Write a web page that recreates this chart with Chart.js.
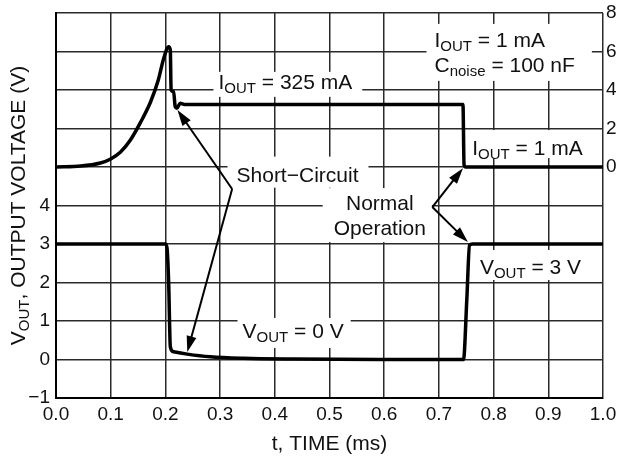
<!DOCTYPE html>
<html>
<head>
<meta charset="utf-8">
<title>Short-Circuit Transient</title>
<script src="https://cdn.jsdelivr.net/npm/chart.js@4.4.1/dist/chart.umd.min.js"></script>
<style>
  html, body { margin: 0; padding: 0; background: #fff; }
  #wrap { width: 622px; height: 459px; }
</style>
</head>
<body>
<div id="wrap"><canvas id="transientChart" width="622" height="459"></canvas></div>
<script>
// time axis (ms)
const xTicks = [0, 0.1, 0.2, 0.3, 0.4, 0.5, 0.6, 0.7, 0.8, 0.9, 1.0];
const xTickLabels = ["0.0", "0.1", "0.2", "0.3", "0.4", "0.5", "0.6", "0.7", "0.8", "0.9", "1.0"];

// left axis: output voltage (V)
const voltTicks = [-1, 0, 1, 2, 3, 4];
const voltTickLabels = ["\u22121", "0", "1", "2", "3", "4"];

// right axis: output current trace
const currentTicks = [0, 2, 4, 6, 8];
const currentTickLabels = ["0", "2", "4", "6", "8"];

// upper trace (right axis)
const currentTimes = [0, 0.045, 0.081, 0.1, 0.118, 0.136, 0.154, 0.173, 0.187, 0.197, 0.206, 0.209,
  0.2104, 0.215, 0.218, 0.221, 0.227, 0.235, 0.744, 0.746, 0.749, 1.0];
const currentValues = [0, 0.05, 0.21, 0.42, 0.78, 1.40, 2.29, 3.39, 4.52, 5.65, 6.25, 6.08,
  4.0, 3.91, 3.13, 3.05, 3.31, 3.25, 3.25, 0.1, 0, 0];

// lower trace (left axis)
const voltTimes = [0, 0.2, 0.203, 0.206, 0.209, 0.215, 0.24, 0.282, 0.343, 0.434, 0.593,
  0.745, 0.751, 0.756, 0.761, 1.0];
const voltValues = [3.0, 3.0, 2.89, 1.98, 0.33, 0.20, 0.14, 0.07, 0.03, 0.01, 0,
  0, 1.55, 2.97, 3.0, 3.0];

const FONT = '"Liberation Sans", Arial, Helvetica, sans-serif';
const TEXT = "#111";
const GRID = "#2a2a2a";

// notes placed in data units (x: ms, y: left-axis volts at first baseline)
// pad = [left, above baseline, right, below last baseline]
const notes = [
  { x: 0.297, y: 7.03, lines: ["I_{OUT} = 325 mA"], pad: [5, 17, 10, 8] },
  { x: 0.692, y: 8.12, lines: ["I_{OUT} = 1 mA", "C_{noise} = 100 nF"], pad: [8, 23, 17, 9] },
  { x: 0.761, y: 5.31, lines: ["I_{OUT} = 1 mA"], pad: [9, 25, 13, 3] },
  { x: 0.330, y: 4.62, lines: ["Short\u2212Circuit"], pad: [9, 25, 10, 6] },
  { x: 0.592, y: 3.88, lines: ["Normal", "Operation"], align: "center", pad: [11, 22, 6, 7] },
  { x: 0.341, y: 0.56, lines: ["V_{OUT} = 0 V"], pad: [5, 20, 7, 10] },
  { x: 0.775, y: 2.22, lines: ["V_{OUT} = 3 V"], pad: [10, 24, 14, 6] },
];

const arrows = [
  { from: [0.322, 4.43], to: [0.222, 6.48] },
  { from: [0.322, 4.43], to: [0.240, 0.195] },
  { from: [0.688, 3.96], to: [0.744, 4.97] },
  { from: [0.688, 3.96], to: [0.753, 3.05] },
];

const LINE_GAP = 25;

function parseRich(str) {
  const parts = [];
  const re = /_\{([^}]*)\}/g;
  let last = 0, m;
  while ((m = re.exec(str))) {
    if (m.index > last) parts.push({ text: str.slice(last, m.index), sub: false });
    parts.push({ text: m[1], sub: true });
    last = re.lastIndex;
  }
  if (last < str.length) parts.push({ text: str.slice(last), sub: false });
  return parts;
}

function setFont(ctx, sub) {
  ctx.font = (sub ? 15 : 21) + "px " + FONT;
}

function richWidth(ctx, str) {
  let w = 0;
  parseRich(str).forEach((p) => {
    setFont(ctx, p.sub);
    w += ctx.measureText(p.text).width;
  });
  return w;
}

function drawRich(ctx, str, x, y) {
  ctx.textBaseline = "alphabetic";
  ctx.textAlign = "left";
  parseRich(str).forEach((p) => {
    setFont(ctx, p.sub);
    ctx.fillText(p.text, x, p.sub ? y + 4 : y);
    x += ctx.measureText(p.text).width;
  });
}

function noteLayout(chart, n) {
  const ctx = chart.ctx;
  const px = chart.scales.x.getPixelForValue(n.x);
  const py = chart.scales.y.getPixelForValue(n.y);
  const widths = n.lines.map((l) => richWidth(ctx, l));
  const maxW = Math.max(...widths);
  const left = n.align === "center" ? px - maxW / 2 : px;
  const lastBase = py + (n.lines.length - 1) * LINE_GAP;
  return {
    px, py, widths, left,
    box: {
      x: left - n.pad[0],
      y: py - n.pad[1],
      w: maxW + n.pad[0] + n.pad[2],
      h: lastBase + n.pad[3] - (py - n.pad[1]),
    },
  };
}

function drawArrow(ctx, x0, y0, x1, y1) {
  const ang = Math.atan2(y1 - y0, x1 - x0);
  const len = 16, half = 5;
  ctx.beginPath();
  ctx.moveTo(x0, y0);
  ctx.lineTo(x1 - Math.cos(ang) * len * 0.8, y1 - Math.sin(ang) * len * 0.8);
  ctx.stroke();
  ctx.beginPath();
  ctx.moveTo(x1, y1);
  ctx.lineTo(x1 - Math.cos(ang) * len - Math.sin(ang) * half, y1 - Math.sin(ang) * len + Math.cos(ang) * half);
  ctx.lineTo(x1 - Math.cos(ang) * len + Math.sin(ang) * half, y1 - Math.sin(ang) * len - Math.cos(ang) * half);
  ctx.closePath();
  ctx.fill();
}

const notesPlugin = {
  id: "plotNotes",
  beforeDatasetsDraw(chart) {
    // blank out the grid behind each note
    const ctx = chart.ctx;
    ctx.save();
    ctx.fillStyle = "#fff";
    notes.forEach((n) => {
      const b = noteLayout(chart, n).box;
      ctx.fillRect(b.x, b.y, b.w, b.h);
    });
    ctx.restore();
  },
  afterDatasetsDraw(chart) {
    const ctx = chart.ctx;
    const xs = chart.scales.x, ys = chart.scales.y;
    ctx.save();
    ctx.strokeStyle = "#000";
    ctx.fillStyle = "#000";
    ctx.lineWidth = 2;
    arrows.forEach((a) => {
      drawArrow(ctx,
        xs.getPixelForValue(a.from[0]), ys.getPixelForValue(a.from[1]),
        xs.getPixelForValue(a.to[0]), ys.getPixelForValue(a.to[1]));
    });
    ctx.fillStyle = TEXT;
    notes.forEach((n) => {
      const L = noteLayout(chart, n);
      n.lines.forEach((line, i) => {
        const x = n.align === "center" ? L.px - L.widths[i] / 2 : L.left;
        drawRich(ctx, line, x, L.py + i * LINE_GAP);
      });
    });
    ctx.restore();
  },
  afterDraw(chart) {
    const ctx = chart.ctx;
    const area = chart.chartArea;
    ctx.save();
    ctx.fillStyle = TEXT;
    // x axis title
    const xt = "t, TIME (ms)";
    const xw = richWidth(ctx, xt);
    drawRich(ctx, xt, (area.left + area.right) / 2 - xw / 2, 450);
    // y axis title, rotated
    const yt = "V_{OUT}, OUTPUT VOLTAGE (V)";
    const yw = richWidth(ctx, yt);
    ctx.translate(25, (area.top + area.bottom) / 2);
    ctx.rotate(-Math.PI / 2);
    drawRich(ctx, yt, -yw / 2, 0);
    ctx.restore();
  },
};

const tickFont = { family: FONT, size: 19 };

// keep the plot box fixed: no extra room for label overhang
const fixVertical = (w) => (scale) => {
  scale.width = w;
  scale.paddingTop = 0;
  scale.paddingBottom = 0;
};

new Chart(document.getElementById("transientChart"), {
  type: "line",
  data: {
    datasets: [
      {
        label: "Output Current",
        data: currentTimes.map((t, i) => ({ x: t, y: currentValues[i] })),
        yAxisID: "y2",
        borderColor: "#000",
        borderWidth: 3.5,
        pointRadius: 0,
        cubicInterpolationMode: "monotone",
        fill: false,
      },
      {
        label: "Output Voltage",
        data: voltTimes.map((t, i) => ({ x: t, y: voltValues[i] })),
        yAxisID: "y",
        borderColor: "#000",
        borderWidth: 3.5,
        pointRadius: 0,
        cubicInterpolationMode: "monotone",
        fill: false,
      },
    ],
  },
  options: {
    responsive: false,
    animation: false,
    devicePixelRatio: 1,
    layout: { padding: { top: 13, left: 0, right: 0, bottom: 0 } },
    plugins: {
      legend: { display: false },
      tooltip: { enabled: false },
    },
    scales: {
      x: {
        type: "linear",
        min: 0,
        max: 1,
        afterFit: (scale) => {
          scale.height = 61;
          scale.paddingLeft = 0;
          scale.paddingRight = 0;
        },
        grid: { display: true, color: GRID, lineWidth: 1.5, drawTicks: false },
        border: { color: "#000", width: 2 },
        ticks: {
          stepSize: 0.1,
          autoSkip: false,
          maxRotation: 0,
          padding: 5,
          color: TEXT,
          font: tickFont,
          callback: (v) => {
            const i = xTicks.findIndex((t) => Math.abs(t - v) < 1e-6);
            return i >= 0 ? xTickLabels[i] : "";
          },
        },
      },
      y: {
        type: "linear",
        position: "left",
        min: -1,
        max: 9,
        afterFit: fixVertical(56),
        grid: { display: true, color: GRID, lineWidth: 1.5, drawTicks: false },
        border: { color: "#000", width: 2 },
        ticks: {
          stepSize: 1,
          autoSkip: false,
          padding: 6,
          color: TEXT,
          font: tickFont,
          callback: (v) => {
            const i = voltTicks.indexOf(v);
            return i >= 0 ? voltTickLabels[i] : "";
          },
        },
      },
      y2: {
        type: "linear",
        position: "right",
        min: -12,
        max: 8,
        afterFit: fixVertical(19),
        grid: { display: false, drawTicks: false },
        border: { display: false },
        ticks: {
          stepSize: 2,
          autoSkip: false,
          padding: 3,
          color: TEXT,
          font: tickFont,
          callback: (v) => {
            const i = currentTicks.indexOf(v);
            return i >= 0 ? currentTickLabels[i] : "";
          },
        },
      },
    },
  },
  plugins: [notesPlugin],
});
</script>
</body>
</html>
